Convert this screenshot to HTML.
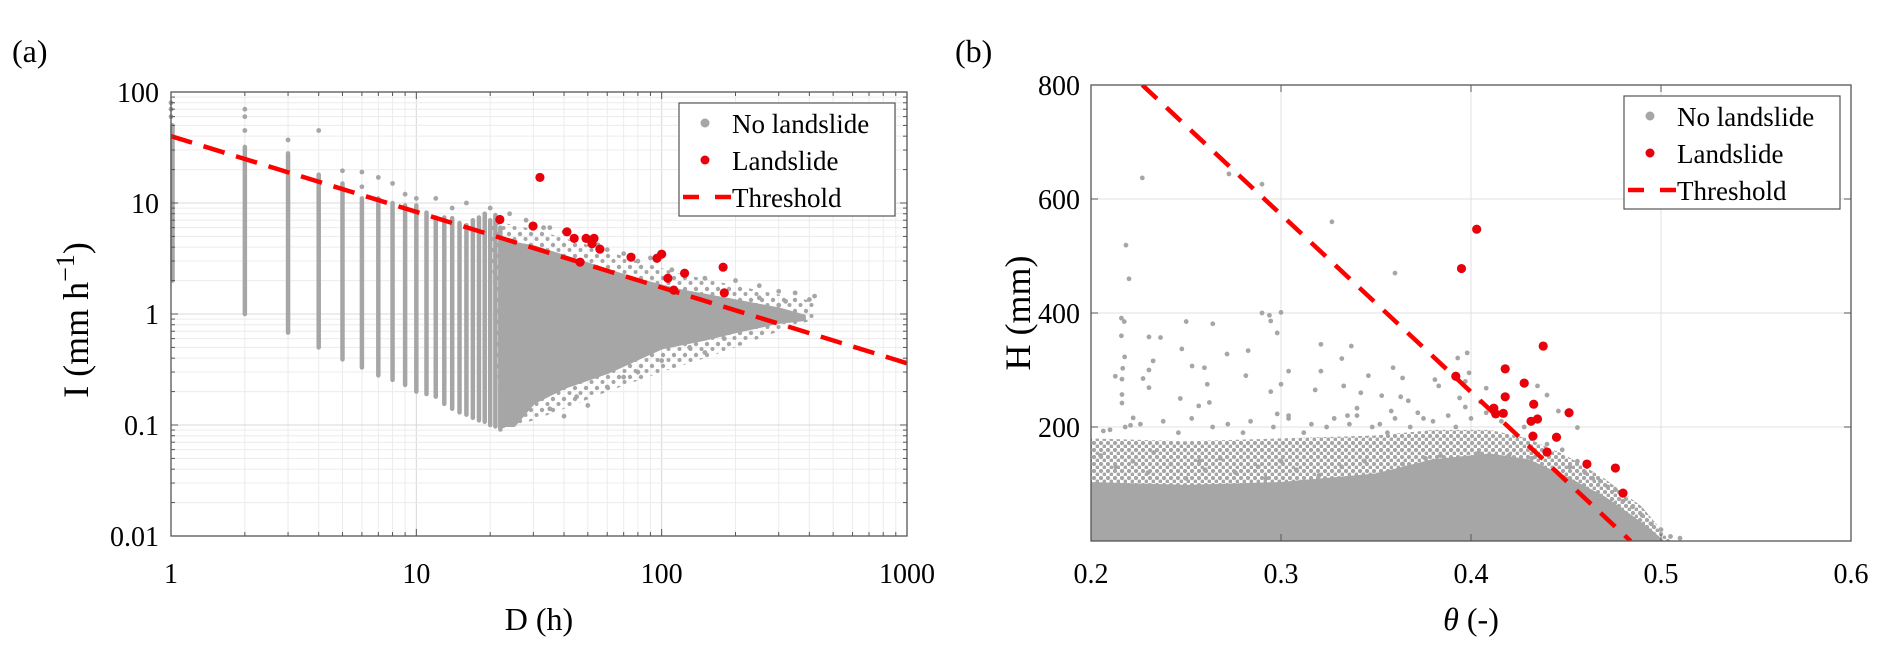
<!DOCTYPE html>
<html><head><meta charset="utf-8">
<style>
html,body{margin:0;padding:0;background:#fff;}
svg{display:block;font-family:"Liberation Serif",serif;}
</style></head>
<body>
<svg id="fig" width="1892" height="657" viewBox="0 0 1892 657" xmlns="http://www.w3.org/2000/svg">
<defs>
<pattern id="dots" width="7" height="7" patternUnits="userSpaceOnUse">
<circle cx="2" cy="2" r="2.2" fill="#a6a6a6"/><circle cx="5.5" cy="5.5" r="2" fill="#a6a6a6"/>
</pattern>
<pattern id="dotsSparse" width="11" height="11" patternUnits="userSpaceOnUse">
<circle cx="3" cy="3" r="2.2" fill="#a6a6a6"/><circle cx="8.5" cy="8" r="2" fill="#a6a6a6"/>
</pattern>
</defs>
<text x="12" y="62" font-size="32">(a)</text>
<text x="955" y="62" font-size="32">(b)</text>
<g id="pa"></g>
<g id="pb"></g>
</svg>
<script>
// ---------- Panel (a) data ----------
const colD = [1,2,3,4,5,6,7,8,9,10,11,12,13,14,15,16,17,18,19,20,21,22];
const colMin = [2.0,1.0,0.68,0.5,0.39,0.33,0.28,0.255,0.23,0.2,0.19,0.18,0.155,0.14,0.13,0.124,0.116,0.11,0.107,0.1,0.097,0.091];
const colMax = [50,32,28,18,15,11,11,10,9.5,9.5,8.2,7.4,7.4,7.3,6.6,6.3,7,7.4,8,7,7.8,6];
const cloudUpD = [22,30,50,80,120,200,300,380];
const cloudUpI = [4.5,4.0,2.8,2.0,1.6,1.3,1.1,0.95];
const cloudLoD = [380,300,200,150,100,60,40,30,25,22];
const cloudLoI = [0.9,0.85,0.7,0.6,0.5,0.3,0.22,0.16,0.1,0.1];
const fringeUpD = [20,30,50,80,120,200,300,420];
const fringeUpI = [7,5.8,4.2,3.0,2.3,1.8,1.5,1.3];
const fringeLoD = [420,300,200,150,100,60,40,30,22];
const fringeLoI = [0.9,0.7,0.5,0.4,0.3,0.2,0.14,0.11,0.09];
const outD = [1,1,1,2,2,2,3,4,5,6,6,7,8,9,10,12,14,16,20,24,28,35,40,55,60,70,80,90,110,150,200,250,300,350,420,260,220,180,150,130,100,80,60,50,40,70,120,160,300,250,320,180,400,90,110,45,35,33];
const outI = [70,60,80,70,60,45,37,45,19.5,19,14,17,15,12,11,11,9,10,9,8,7,6,5.5,4.2,3.8,3.5,3,3.2,2.5,2.1,2,1.8,1.6,1.55,1.45,0.9,0.75,0.6,0.45,0.5,0.38,0.3,0.22,0.15,0.12,0.27,0.55,0.75,1.2,1.4,1.3,1.5,1.35,0.45,0.6,0.18,0.14,6];
const slideD = [31.9,21.9,29.9,41.1,44,49.2,53,52,56,46.5,75,95.7,100,106,112,124,178,180];
const slideI = [17.0,7.1,6.2,5.5,4.8,4.8,4.8,4.3,3.84,2.93,3.25,3.18,3.46,2.1,1.64,2.33,2.64,1.55];
const threshD = [1,1000];
const threshI = [40,0.36];
const xTicksA = [1,10,100,1000];
const xTickLabelsA = ["1","10","100","1000"];
const yTicksA = [0.01,0.1,1,10,100];
const yTickLabelsA = ["0.01","0.1","1","10","100"];

// ---------- Panel (b) data ----------
const denseT = [0.2,0.25,0.3,0.35,0.38,0.41,0.43,0.45,0.47,0.485,0.495,0.5];
const denseH = [100,95,100,115,140,150,140,110,75,40,15,0];
const fringeT = [0.2,0.25,0.3,0.35,0.38,0.41,0.43,0.45,0.47,0.49,0.505];
const fringeH = [180,175,180,185,195,195,180,150,110,60,0];
const grayT = [.216,.2175,.216,.2177,.2167,.2163,.2163,.2163,.2128,.2305,.2366,.2327,.2305,.2274,.2305,.2222,.2208,.2065,.2501,.2478,.2532,.2597,.2641,.2612,.2623,.2567,.247,.2716,.2827,.2815,.2939,.2946,.298,.3,.3,.304,.2946,.298,.304,.318,.321,.321,.332,.337,.333,.335,.342,.346,.34,.353,.359,.364,.363,.367,.358,.375,.381,.383,.393,.398,.399,.397,.394,.397,.408,.405,.435,.44,.446,.456,.227,.2726,.29,.3268,.2184,.22,.29,.36,
.205,.21,.213,.218,.222,.226,.23,.233,.238,.242,.246,.25,.253,.257,.26,.264,.268,.272,.276,.28,.284,.288,.292,.296,.3,.304,.308,.312,.316,.32,.324,.328,.332,.336,.34,.344,.348,.352,.356,.36,.364,.368,.372,.376,.38,.384,.388,.392,.396,.4,.404,.408,.412,.416,.42,.424,.428,.432,.436,.44,.444,.448,.452,.456,.46,.464,.468,.472,.476,.48,.485,.49,.495,.5,.505,.51];
const grayH = [391,385,360,323,303,284,257,242,289,358,357,316,300,285,269,216,203,193,385,337,307,304,381,275,243,237,250,328,334,290,396,386,365,401,275,298,262,223,220,265,345,298,320,342,272,220,260,290,233,255,304,286,253,246,228,215,283,272,321,330,295,280,251,235,268,244,272,256,228,199,637,644,626,560,519,460,400,470,
150,195,130,200,140,205,120,155,210,135,190,110,215,140,125,200,145,205,120,190,210,130,110,200,140,215,125,190,205,115,200,215,130,205,220,140,200,205,190,215,135,200,225,145,210,150,220,200,140,215,155,225,145,210,150,135,200,145,130,170,120,160,130,140,120,110,105,95,90,70,60,45,30,20,8,5];
const slideT = [0.438,0.418,0.428,0.418,0.392,0.412,0.417,0.413,0.433,0.4316,0.435,0.4516,0.4326,0.445,0.44,0.461,0.476,0.48,0.403,0.395];
const slideH = [342,302,277,253,289,233,224,223,240,210,214,225,184,182,156,135,128,84,547,478];
const threshT = [0.227,0.484];
const threshH = [800,0];
const xTicksB = [0.2,0.3,0.4,0.5,0.6];
const xTickLabelsB = ["0.2","0.3","0.4","0.5","0.6"];
const yTicksB = [200,400,600,800];
const yTickLabelsB = ["200","400","600","800"];

const NS = "http://www.w3.org/2000/svg";
function mk(parent, tag, attrs){const e=document.createElementNS(NS,tag);for(const k in attrs)e.setAttribute(k,attrs[k]);parent.appendChild(e);return e;}
const GRAY="#a6a6a6", RED="#e8000b";

// ---------- Panel (a) ----------
const A={l:171,r:907,t:92,b:536};
const xa=d=>A.l+(A.r-A.l)/3*Math.log10(d);
const ya=i=>A.b-(A.b-A.t)/4*(Math.log10(i)+2);
const pa=document.getElementById('pa');
const defs=document.querySelector('defs');
const ca=mk(defs,'clipPath',{id:'clipA'});mk(ca,'rect',{x:A.l-4,y:A.t,width:A.r-A.l+4,height:A.b-A.t});
const cb=mk(defs,'clipPath',{id:'clipB'});
const B={l:1091,r:1851,t:85,b:541};
mk(cb,'rect',{x:B.l,y:B.t,width:B.r-B.l,height:B.b-B.t});
const gridA=mk(pa,'g',{stroke:"#e3e3e3","stroke-width":1});


for(let e=0;e<3;e++)for(let m=1;m<10;m++){const v=m*Math.pow(10,e);const x=xa(v);mk(gridA,'line',{x1:x,x2:x,y1:A.t,y2:A.b,stroke:m==1?"#d8d8d8":"#ececec"});}
for(let e=-2;e<2;e++)for(let m=1;m<10;m++){const v=m*Math.pow(10,e);const y=ya(v);mk(gridA,'line',{x1:A.l,x2:A.r,y1:y,y2:y,stroke:m==1?"#d8d8d8":"#ececec"});}
const sa=mk(pa,'g',{"clip-path":"url(#clipA)"});
for(let k=0;k<colD.length;k++){
  const l=mk(sa,'line',{x1:xa(colD[k])+(k==0?1.5:0),x2:xa(colD[k])+(k==0?1.5:0),y1:ya(colMin[k]),y2:ya(colMax[k]),stroke:GRAY,"stroke-width":4.5,"stroke-linecap":"round"});
  
  
}
let fp=[];
for(let k=0;k<fringeUpD.length;k++)fp.push(xa(fringeUpD[k])+","+ya(fringeUpI[k]));
for(let k=0;k<fringeLoD.length;k++)fp.push(xa(fringeLoD[k])+","+ya(fringeLoI[k]));
const fringeA=mk(sa,'polygon',{points:fp.join(" "),fill:"url(#dotsSparse)"});


let pts=[];
for(let k=0;k<cloudUpD.length;k++)pts.push(xa(cloudUpD[k])+","+ya(cloudUpI[k]));
for(let k=0;k<cloudLoD.length;k++)pts.push(xa(cloudLoD[k])+","+ya(cloudLoI[k]));
const cloud=mk(sa,'polygon',{points:pts.join(" "),fill:GRAY,stroke:GRAY,"stroke-width":4,"stroke-linejoin":"round"});


for(let k=0;k<outD.length;k++){
  const c=mk(sa,'circle',{cx:xa(outD[k]),cy:ya(outI[k]),r:2.4,fill:GRAY});
  
  
}
const tla=mk(sa,'line',{x1:xa(threshD[0]),y1:ya(threshI[0]),x2:xa(threshD[1]),y2:ya(threshI[1]),stroke:"#ff0000","stroke-width":4.5,"stroke-dasharray":"22 12"});


for(let k=0;k<slideD.length;k++){
  const c=mk(sa,'circle',{cx:xa(slideD[k]),cy:ya(slideI[k]),r:4.6,fill:RED});
  
  
}
const boxA=mk(pa,'rect',{x:A.l,y:A.t,width:A.r-A.l,height:A.b-A.t,fill:"none",stroke:"#555","stroke-width":1.3});


for(let e=0;e<3;e++)for(let m=1;m<10;m++){const x=xa(m*Math.pow(10,e));const len=m==1?7:4;mk(pa,'line',{x1:x,x2:x,y1:A.b,y2:A.b-len,stroke:"#555"});mk(pa,'line',{x1:x,x2:x,y1:A.t,y2:A.t+len,stroke:"#555"});}
for(let e=-2;e<2;e++)for(let m=1;m<10;m++){const y=ya(m*Math.pow(10,e));const len=m==1?7:4;mk(pa,'line',{x1:A.l,x2:A.l+len,y1:y,y2:y,stroke:"#555"});mk(pa,'line',{x1:A.r,x2:A.r-len,y1:y,y2:y,stroke:"#555"});}
for(let k=0;k<xTicksA.length;k++){
  const t=mk(pa,'text',{x:xa(xTicksA[k]),y:583,"font-size":28,"text-anchor":"middle"});t.textContent=xTickLabelsA[k];
  
  
}
for(let k=0;k<yTicksA.length;k++){
  const t=mk(pa,'text',{x:159,y:ya(yTicksA[k])+10,"font-size":28,"text-anchor":"end"});t.textContent=yTickLabelsA[k];
  
  
}
const xtA=mk(pa,'text',{x:(A.l+A.r)/2,y:630,"font-size":32,"text-anchor":"middle"});xtA.textContent="D (h)";


const ytA=mk(pa,'text',{x:0,y:0,"font-size":36,"text-anchor":"middle",transform:"translate(88,320) rotate(-90)"});
ytA.innerHTML='I (mm h<tspan dy="-14" font-size="26">−1</tspan><tspan dy="14">)</tspan>';



function legend(parent,x,y,name){
  const g=mk(parent,'g',{});
  
  
  mk(g,'rect',{x:x,y:y,width:216,height:113,fill:"#fff",stroke:"#555","stroke-width":1.2});
  mk(g,'circle',{cx:x+26,cy:y+20,r:4.5,fill:GRAY});
  const t1=mk(g,'text',{x:x+53,y:y+30,"font-size":27});t1.textContent="No landslide";
  
  
  mk(g,'circle',{cx:x+26,cy:y+57,r:4.5,fill:RED});
  const t2=mk(g,'text',{x:x+53,y:y+67,"font-size":27});t2.textContent="Landslide";
  
  
  mk(g,'line',{x1:x+4,x2:x+52,y1:y+94,y2:y+94,stroke:"#ff0000","stroke-width":4.5,"stroke-dasharray":"16 16"});
  const t3=mk(g,'text',{x:x+53,y:y+104,"font-size":27});t3.textContent="Threshold";
  
  
}
legend(pa,679,103,'legend-a');

// ---------- Panel (b) ----------
const xb=t=>B.l+(B.r-B.l)*(t-0.2)/0.4;
const yb=h=>B.b-(B.b-B.t)*h/800;
const pb=document.getElementById('pb');
const gridB=mk(pb,'g',{stroke:"#e0e0e0","stroke-width":1});


for(const t of xTicksB){const x=xb(t);mk(gridB,'line',{x1:x,x2:x,y1:B.t,y2:B.b});}
for(const h of yTicksB){const y=yb(h);mk(gridB,'line',{x1:B.l,x2:B.r,y1:y,y2:y});}
const sb=mk(pb,'g',{"clip-path":"url(#clipB)"});
let fb=[xb(fringeT[0])+","+yb(0)];
for(let k=0;k<fringeT.length;k++)fb.push(xb(fringeT[k])+","+yb(fringeH[k]));
const fringeB=mk(sb,'polygon',{points:fb.join(" "),fill:"url(#dots)"});


let pp=[xb(denseT[0])+","+yb(0)];
for(let k=0;k<denseT.length;k++)pp.push(xb(denseT[k])+","+yb(denseH[k]));
const dense=mk(sb,'polygon',{points:pp.join(" "),fill:GRAY,stroke:GRAY,"stroke-width":4,"stroke-linejoin":"round"});


for(let k=0;k<grayT.length;k++){
  const c=mk(sb,'circle',{cx:xb(grayT[k]),cy:yb(grayH[k]),r:2.4,fill:GRAY});
  
  
}
const tlb=mk(sb,'line',{x1:xb(threshT[0]),y1:yb(threshH[0]),x2:xb(threshT[1]),y2:yb(threshH[1]),stroke:"#ff0000","stroke-width":4.5,"stroke-dasharray":"20 13"});


for(let k=0;k<slideT.length;k++){
  const c=mk(sb,'circle',{cx:xb(slideT[k]),cy:yb(slideH[k]),r:4.6,fill:RED});
  
  
}
const boxB=mk(pb,'rect',{x:B.l,y:B.t,width:B.r-B.l,height:B.b-B.t,fill:"none",stroke:"#555","stroke-width":1.3});


for(const t of xTicksB){const x=xb(t);mk(pb,'line',{x1:x,x2:x,y1:B.b,y2:B.b-7,stroke:"#555"});mk(pb,'line',{x1:x,x2:x,y1:B.t,y2:B.t+7,stroke:"#555"});}
for(const h of yTicksB){const y=yb(h);mk(pb,'line',{x1:B.l,x2:B.l+7,y1:y,y2:y,stroke:"#555"});mk(pb,'line',{x1:B.r,x2:B.r-7,y1:y,y2:y,stroke:"#555"});}
for(let k=0;k<xTicksB.length;k++){
  const t=mk(pb,'text',{x:xb(xTicksB[k]),y:583,"font-size":28,"text-anchor":"middle"});t.textContent=xTickLabelsB[k];
  
  
}
for(let k=0;k<yTicksB.length;k++){
  const t=mk(pb,'text',{x:1080,y:yb(yTicksB[k])+10,"font-size":28,"text-anchor":"end"});t.textContent=yTickLabelsB[k];
  
  
}
const xtB=mk(pb,'text',{x:(B.l+B.r)/2,y:630,"font-size":32,"text-anchor":"middle"});
xtB.innerHTML='<tspan font-style="italic">θ</tspan> (-)';


const ytB=mk(pb,'text',{x:0,y:0,"font-size":36,"text-anchor":"middle",transform:"translate(1030,313) rotate(-90)"});
ytB.textContent="H (mm)";


legend(pb,1624,96,'legend-b');
</script>
</body></html>
